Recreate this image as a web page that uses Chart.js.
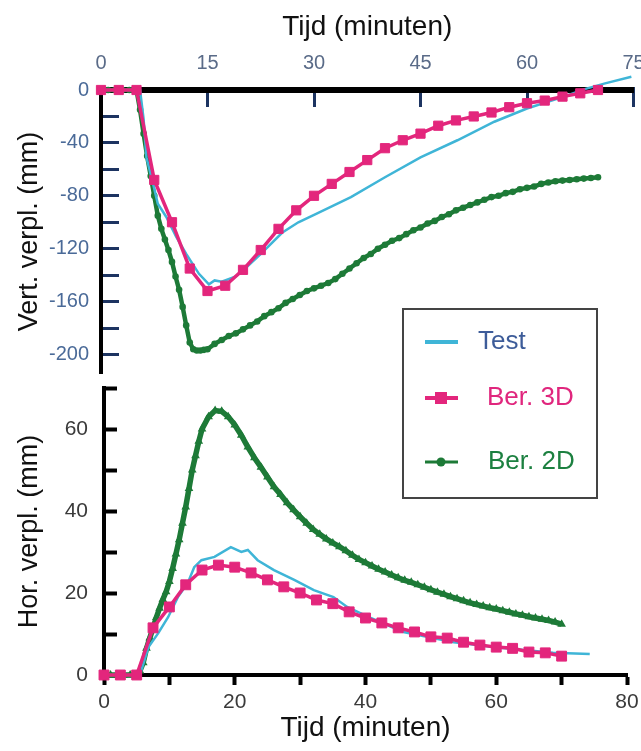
<!DOCTYPE html>
<html><head><meta charset="utf-8">
<script src="https://cdn.jsdelivr.net/npm/chart.js@4.4.1/dist/chart.umd.min.js"></script>
<style>
html,body{margin:0;padding:0;background:#fff;}
#wrap{position:relative;width:641px;height:751px;overflow:hidden;}
canvas{position:absolute;left:0;top:0;}
</style></head><body>
<div id="wrap"><canvas id="cTop" width="641" height="751"></canvas><canvas id="cBot" width="641" height="751"></canvas></div>
<script>
// ---------- data ----------
const seriesNames = ['Test', 'Ber. 3D', 'Ber. 2D'];

const topTimeTicks = [0, 15, 30, 45, 60, 75];
const vertTicks = [-200, -180, -160, -140, -120, -100, -80, -60, -40, -20, 0];
const vertLabels = [0, -40, -80, -120, -160, -200];
const botTimeTicks = [0, 10, 20, 30, 40, 50, 60, 70, 80];
const botTimeLabels = [0, 20, 40, 60, 80];
const horTicks = [0, 10, 20, 30, 40, 50, 60, 70];
const horLabels = [0, 20, 40, 60];

// Test (measured)
const testTopTime = [0,5.5,6,6.4,7.3,8,9.2,10.6,12,13.8,15.2,16,17,19,20.3,22.7,25.5,27.8,30.6,35.2,40,45,50.2,55.4,60,65.2,68,71,74.7];
const testTopVert = [0,0,-22,-51,-70,-86,-96,-111,-124,-139,-147,-144,-145,-141,-135,-123,-108,-100,-93,-81,-66,-51,-38,-24,-14,-5,0.5,5,10];
const testBotTime = [0,5.5,6.8,8.3,9.8,11.3,12.8,13.8,14.9,16.9,19.4,21,22,23.5,26,29.1,32.1,35.1,37.2,40.8,45.8,53.5,61,68.7,74.3];
const testBotHor = [0,0,6.8,10.2,14.1,19,22.4,26.3,28,28.8,31.2,30,30.5,28,25.6,23.2,20.7,19,16.6,13.9,10.5,8,6.6,5.4,5.1];

// Ber. 3D
const time3D = [0,2.5,5,7.5,10,12.5,15,17.5,20,22.5,25,27.5,30,32.5,35,37.5,40,42.5,45,47.5,50,52.5,55,57.5,60,62.5,65,67.5,70];
const vert3D = [0,0,0,-68,-100,-135,-152,-148,-136,-121,-105,-91,-80,-71,-62,-53,-44,-38,-33,-27,-23,-20,-17,-13,-10,-8,-5,-2.5,0];
const hor3D  = [0,0,0,11.5,16.6,22,25.6,26.8,26.3,24.9,23.2,21.5,20,18.3,17.4,15.4,13.9,12.7,11.5,10.5,9.3,9,8,7.3,6.8,6.5,5.6,5.4,4.6];

// Ber. 2D
const time2D = [0,1,2,3,4,5,5.5,6,6.5,7,7.5,8,8.5,9,9.5,10,10.5,11,11.5,12,12.5,13,13.5,14,14.5,15,
  16,17,18,19,20,21,22,23,24,25,26,27,28,29,30,31,32,33,34,35,36,37,38,39,40,41,42,43,44,45,
  46,47,48,49,50,51,52,53,54,55,56,57,58,59,60,61,62,63,64,65,66,67,68,69,70];
const vert2D = [0,0,0,0,0,0,-15,-33,-50,-65,-80,-95,-105,-113,-121,-130,-141,-151,-164,-178,-191,-196,-197,-197,-196.5,-196,
  -192,-189,-186,-184,-181,-178,-175,-171,-168,-165,-161,-158,-155,-152,-150,-148,-146,-143,-139,-135,-131,-127,-124,-120,-117,-114,-112,-109,-106,-104,
  -101,-99,-96,-94,-91,-89,-87,-85,-83,-81,-80,-78,-77,-75,-74,-73,-71,-70,-69,-68.5,-68,-67.5,-67,-66.5,-66];
const hor2D = [0,0,0,0,0,0,1,3,6.5,9,11.5,14,16.3,18.4,20.3,22.8,26,29.5,33,37,41,45.5,50,53.5,57,60,
  63,64.5,64.3,63,61,58.5,55.6,53,50.7,48.3,45.9,44,42,40.3,38.6,37,35.5,34.3,33.2,32.2,31.3,30.3,29.2,28.2,27.4,26.6,25.8,25.1,24.4,23.7,
  23.1,22.6,22,21.4,20.8,20.2,19.7,19.1,18.6,18.1,17.6,17.2,16.8,16.4,16.1,15.7,15.3,14.9,14.6,14.2,13.9,13.6,13.3,12.9,12.4];

// ---------- styling ----------
const FONT = "'Liberation Sans', Arial, sans-serif";
const colTest = '#3fb5d7', col3D = '#e3267c', col2D = '#1d7a37';
const pts = (xs, ys) => xs.map((x, i) => ({x: x, y: ys[i]}));

function setTicks(list) { return s => { s.ticks = list.map(v => ({value: v})); }; }
function labelIf(list) { return v => (list.includes(v) ? String(v) : ''); }

// ---------- top chart ----------
new Chart(document.getElementById('cTop'), {
  type: 'line',
  data: {
    datasets: [
      {label: seriesNames[1], data: pts(time3D, vert3D), borderColor: col3D, backgroundColor: col3D, borderWidth: 3.5,
       pointStyle: 'rect', pointRadius: 6.5, pointBorderWidth: 1, clip: false},
      {label: seriesNames[0], data: pts(testTopTime, testTopVert), borderColor: colTest, borderWidth: 2.5, pointRadius: 0, clip: false},
      {label: seriesNames[2], data: pts(time2D, vert2D), borderColor: col2D, backgroundColor: col2D, borderWidth: 4.5,
       pointStyle: 'circle', pointRadius: 3.3, pointBorderWidth: 0, clip: false}
    ]
  },
  options: {
    responsive: false, animation: false, devicePixelRatio: 1,
    layout: {padding: {left: 0, top: 0, right: 4, bottom: 378}},
    plugins: {legend: {display: false}, tooltip: {enabled: false}},
    scales: {
      x: {
        type: 'linear', position: 'top', min: 0, max: 75,
        afterBuildTicks: setTicks(topTimeTicks),
        afterFit: s => { s.height = 90; s.paddingLeft = 0; s.paddingRight = 0; },
        border: {color: '#000', width: 6},
        grid: {drawOnChartArea: false, drawTicks: true, tickLength: -17, tickColor: '#1d3461', tickWidth: 3},
        ticks: {autoSkip: false, maxRotation: 0, padding: 32, color: '#5a6b88', font: {family: FONT, size: 20}},
        title: {display: true, text: 'Tijd (minuten)', color: '#111', font: {family: FONT, size: 28}, padding: {top: 10, bottom: 0}}
      },
      y: {
        type: 'linear', position: 'left', min: -214, max: 0,
        afterBuildTicks: setTicks(vertTicks),
        afterFit: s => { s.width = 101; s.paddingTop = 0; s.paddingBottom = 0; },
        border: {color: '#000', width: 4},
        grid: {drawOnChartArea: false, drawTicks: true, tickLength: -18, tickColor: '#1d3461', tickWidth: 3},
        ticks: {autoSkip: false, padding: 30, color: '#4a6a98', font: {family: FONT, size: 20}, callback: labelIf(vertLabels)},
        title: {display: true, text: 'Vert. verpl. (mm)', color: '#111', font: {family: FONT, size: 27}, padding: {top: 13, bottom: 0}}
      }
    }
  }
});

// ---------- legend plugin ----------
const boxLegend = {
  id: 'boxLegend',
  afterDraw(chart) {
    const ctx = chart.ctx;
    ctx.save();
    ctx.fillStyle = '#fff';
    ctx.fillRect(403, 309, 194, 189);
    ctx.strokeStyle = '#444';
    ctx.lineWidth = 2;
    ctx.strokeRect(403, 309, 194, 189);
    const rows = [
      {name: seriesNames[0], y: 342, col: colTest, txt: '#3d5c99', tx: 478, mk: null},
      {name: seriesNames[1], y: 398, col: col3D, txt: '#e0267d', tx: 487, mk: 'rect'},
      {name: seriesNames[2], y: 462, col: col2D, txt: '#1c8040', tx: 488, mk: 'circle'}
    ];
    ctx.font = '26px ' + FONT;
    ctx.textBaseline = 'middle';
    ctx.textAlign = 'left';
    rows.forEach(r => {
      ctx.strokeStyle = r.col;
      ctx.lineWidth = r.mk === 'circle' ? 3 : 4;
      ctx.beginPath(); ctx.moveTo(425, r.y); ctx.lineTo(458, r.y); ctx.stroke();
      ctx.fillStyle = r.col;
      if (r.mk === 'rect') ctx.fillRect(435, r.y - 6, 12, 12);
      if (r.mk === 'circle') { ctx.beginPath(); ctx.arc(441, r.y, 4.5, 0, Math.PI * 2); ctx.fill(); }
      ctx.fillStyle = r.txt;
      ctx.fillText(r.name, r.tx, r.y);
    });
    ctx.restore();
  }
};

// ---------- bottom chart ----------
new Chart(document.getElementById('cBot'), {
  type: 'line',
  data: {
    datasets: [
      {label: seriesNames[1], data: pts(time3D, hor3D), borderColor: col3D, backgroundColor: col3D, borderWidth: 3.5,
       pointStyle: 'rect', pointRadius: 7, pointBorderWidth: 1, clip: false},
      {label: seriesNames[0], data: pts(testBotTime, testBotHor), borderColor: colTest, borderWidth: 2.5, pointRadius: 0, clip: false},
      {label: seriesNames[2], data: pts(time2D, hor2D), borderColor: col2D, backgroundColor: col2D, borderWidth: 5.5,
       pointStyle: 'triangle', pointRadius: 5, pointBorderWidth: 0, clip: false}
    ]
  },
  options: {
    responsive: false, animation: false, devicePixelRatio: 1,
    layout: {padding: {left: 0, top: 388, right: 14, bottom: 0}},
    plugins: {legend: {display: false}, tooltip: {enabled: false}},
    scales: {
      x: {
        type: 'linear', position: 'bottom', min: 0, max: 80,
        afterBuildTicks: setTicks(botTimeTicks),
        afterFit: s => { s.height = 76; s.paddingLeft = 0; s.paddingRight = 0; },
        border: {color: '#000', width: 4},
        grid: {drawOnChartArea: false, drawTicks: true, tickLength: 10, tickColor: '#000', tickWidth: 4},
        ticks: {autoSkip: false, maxRotation: 0, padding: 5, color: '#3a3a3a', font: {family: FONT, size: 21}, callback: labelIf(botTimeLabels)},
        title: {display: true, text: 'Tijd (minuten)', color: '#111', font: {family: FONT, size: 28}, padding: {top: 0, bottom: 6}}
      },
      y: {
        type: 'linear', position: 'left', min: 0, max: 70,
        afterBuildTicks: setTicks(horTicks),
        afterFit: s => { s.width = 104; s.paddingTop = 0; s.paddingBottom = 0; },
        border: {color: '#000', width: 4},
        grid: {drawOnChartArea: false, drawTicks: true, tickLength: -13, tickColor: '#000', tickWidth: 4},
        ticks: {autoSkip: false, padding: 29, color: '#3a3a3a', font: {family: FONT, size: 21}, callback: labelIf(horLabels)},
        title: {display: true, text: 'Hor. verpl. (mm)', color: '#111', font: {family: FONT, size: 27}, padding: {top: 13, bottom: 0}}
      }
    }
  },
  plugins: [boxLegend]
});
</script>
</body></html>
